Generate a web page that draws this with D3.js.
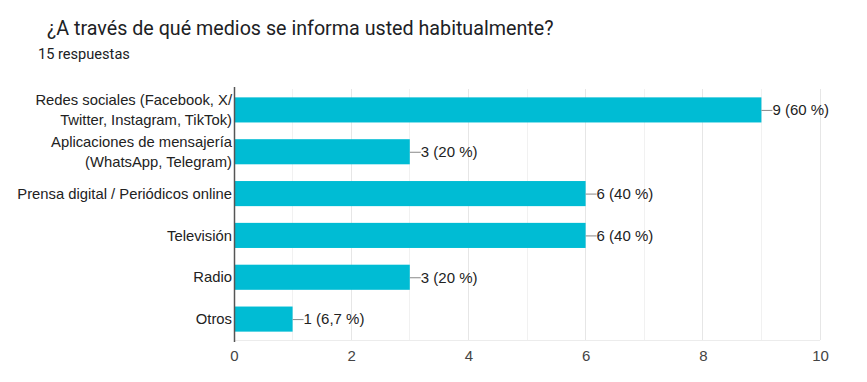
<!DOCTYPE html>
<html><head><meta charset="utf-8">
<script src="https://cdn.jsdelivr.net/npm/d3@7/dist/d3.min.js"></script>
<style>body{margin:0;background:#fff;}svg{display:block;}</style>
</head><body>
<svg id="c" width="867" height="382"></svg>
<script>
const categories = [
  ["Redes sociales (Facebook, X/", "Twitter, Instagram, TikTok)"],
  ["Aplicaciones de mensajería", "(WhatsApp, Telegram)"],
  ["Prensa digital / Periódicos online"],
  ["Televisión"],
  ["Radio"],
  ["Otros"]
];
const values = [9, 3, 6, 6, 3, 1];
const valueLabels = ["9 (60 %)", "3 (20 %)", "6 (40 %)", "6 (40 %)", "3 (20 %)", "1 (6,7 %)"];
const ticks = [0, 2, 4, 6, 8, 10];
const title = "¿A través de qué medios se informa usted habitualmente?";
const subtitle = "15 respuestas";

const svg = d3.select("#c");
const m = {left: 234, right: 820, top: 89, bottom: 340};
const x = d3.scaleLinear().domain([0, 10]).range([m.left, m.right]);
const y = d3.scaleBand().domain(d3.range(categories.length)).range([m.top, m.bottom]).paddingInner(0.4).paddingOuter(0.2);
const FONT = "Liberation Sans, Arial, sans-serif";

svg.append("text").attr("x", 47).attr("y", 35).attr("font-family", "Roboto, sans-serif")
  .attr("font-size", 19.7).attr("fill", "#202124").text(title);
svg.append("text").attr("x", 38).attr("y", 59).attr("font-family", "Roboto, sans-serif")
  .attr("font-size", 14.6).attr("fill", "#202124").text(subtitle);

// gridlines
svg.append("g").selectAll("line").data(d3.range(1, 11)).join("line")
  .attr("x1", d => x(d)).attr("x2", d => x(d)).attr("y1", m.top).attr("y2", m.bottom)
  .attr("stroke", d => d % 2 === 0 ? "#e6e6e6" : "#f1f1f1").attr("stroke-width", 1)
  .attr("shape-rendering", "crispEdges");
svg.append("line").attr("x1", m.left).attr("x2", m.right).attr("y1", m.bottom + 0.5).attr("y2", m.bottom + 0.5)
  .attr("stroke", "#ececec");

// bars
svg.append("g").selectAll("rect").data(values).join("rect")
  .attr("x", x(0)).attr("y", (d, i) => y(i)).attr("width", d => x(d) - x(0)).attr("height", y.bandwidth())
  .attr("fill", "#00bcd4");

// connectors and value labels
const lab = svg.append("g");
values.forEach((v, i) => {
  const cy = y(i) + y.bandwidth() / 2;
  lab.append("line").attr("x1", x(v)).attr("x2", x(v) + 11).attr("y1", cy + 0.5).attr("y2", cy + 0.5)
    .attr("stroke", "#888").attr("stroke-width", 1);
  lab.append("text").attr("x", x(v) + 11).attr("y", cy).attr("dy", "0.35em")
    .attr("font-family", FONT).attr("font-size", 15).attr("fill", "#222")
    .text(valueLabels[i]);
});

// category labels
const cl = svg.append("g");
categories.forEach((lines, i) => {
  const cy = y(i) + y.bandwidth() / 2;
  const n = lines.length;
  lines.forEach((t, j) => {
    cl.append("text").attr("x", m.left - 2).attr("y", cy + (j - (n - 1) / 2) * 20).attr("dy", "0.35em")
      .attr("text-anchor", "end").attr("font-family", FONT)
      .attr("font-size", 14.8).attr("fill", "#222").text(t);
  });
});

// axis line
svg.append("line").attr("x1", m.left + 0.5).attr("x2", m.left + 0.5).attr("y1", m.top - 2).attr("y2", m.bottom + 2)
  .attr("stroke", "#555").attr("stroke-width", 1.5);

// x tick labels
const ax = svg.append("g").attr("transform", `translate(0,${m.bottom})`)
  .call(d3.axisBottom(x).tickValues(ticks).tickSize(0).tickPadding(10));
ax.select(".domain").remove();
ax.selectAll("text").attr("font-family", FONT).attr("font-size", 15).attr("fill", "#444");
</script>
</body></html>
